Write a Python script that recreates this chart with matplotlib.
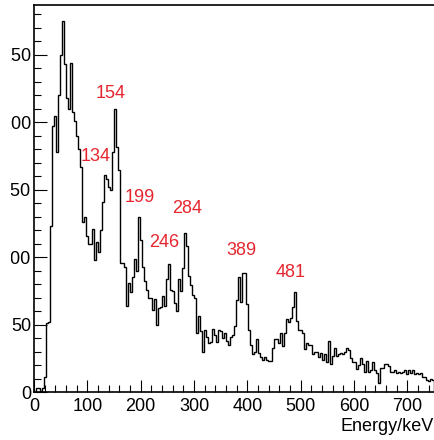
import numpy as np
import matplotlib
matplotlib.use("Agg")
import matplotlib.pyplot as plt
from matplotlib.ticker import MultipleLocator
from matplotlib.transforms import Bbox, TransformedBbox

# Gamma spectrum: 200 bins of 3.75 keV from 0 to 750 keV
e_min, e_max, n_bins = 0.0, 750.0, 200
counts = [
    0, 3, 3, 1, 3, 11, 51, 52, 123, 197,
    205, 178, 220, 250, 275, 243, 218, 210, 244, 208,
    201, 190, 180, 167, 126, 130, 116, 110, 110, 121,
    98, 111, 104, 120, 141, 161, 158, 152, 150, 178,
    210, 182, 165, 96, 96, 93, 64, 81, 74, 85,
    99, 90, 130, 113, 93, 82, 76, 70, 70, 61,
    69, 50, 62, 63, 71, 64, 84, 95, 76, 75,
    66, 60, 84, 75, 92, 118, 108, 86, 79, 72,
    70, 44, 56, 45, 30, 46, 41, 36, 37, 47,
    42, 37, 46, 45, 40, 44, 38, 35, 41, 42,
    49, 68, 85, 67, 88, 88, 65, 46, 35, 28,
    30, 39, 29, 26, 24, 26, 24, 23, 23, 33,
    39, 39, 36, 44, 34, 44, 54, 52, 55, 63,
    74, 53, 46, 46, 44, 32, 36, 35, 35, 28,
    30, 30, 26, 29, 24, 28, 22, 38, 21, 27,
    33, 27, 28, 29, 28, 30, 33, 31, 25, 22,
    22, 17, 20, 25, 21, 15, 23, 15, 16, 22,
    16, 14, 7, 18, 18, 21, 21, 19, 15, 15,
    16, 14, 15, 14, 15, 16, 13, 16, 14, 16,
    13, 14, 13, 14, 11, 11, 9, 8, 10, 9,
]

# Peak annotations (text, energy position, count position)
peak_texts = ["154", "134", "199", "284", "246", "389", "481"]
peak_x = [144.4, 115.3, 198.2, 287.8, 243.8, 388.7, 481.3]
peak_y = [221, 175, 144, 136, 111, 104.6, 88.3]

y_ticks = [0, 50, 100, 150, 200, 250]
x_ticks = [0, 100, 200, 300, 400, 500, 600, 700]

FONT = ["Liberation Sans", "DejaVu Sans"]
RED = "#e5262f"
FS = 13

W, H = 434, 440
fig = plt.figure(figsize=(W / 100, H / 100), dpi=100)
ax = fig.add_axes([34 / W, 48 / H, 400 / W, 387 / H])

edges = np.linspace(e_min, e_max, n_bins + 1)
ax.stairs(counts, edges, color="black", lw=1.0, baseline=0)

ax.set_xlim(e_min, e_max)
ax.set_ylim(0, 287)

for side in ("top", "left", "bottom"):
    ax.spines[side].set_linewidth(1.2)
ax.spines["right"].set_visible(False)

ax.set_xticks(x_ticks)
ax.set_yticks(y_ticks)
ax.xaxis.set_minor_locator(MultipleLocator(20))
ax.yaxis.set_minor_locator(MultipleLocator(10))
ax.tick_params(which="both", direction="in", top=False, right=False, width=0.8)
ax.tick_params(which="major", length=9)
ax.tick_params(which="minor", length=4.8)
ax.tick_params(axis="x", which="major", pad=4)
ax.tick_params(axis="y", which="major", pad=2.2)

ax.set_xticklabels([str(v) for v in x_ticks], fontsize=FS, family=FONT)
ax.set_yticklabels([str(v) for v in y_ticks], fontsize=FS, family=FONT)

# the leading digit of the y labels falls outside the visible frame
clip = TransformedBbox(Bbox.from_extents(11.0 / W, 0, 34 / W, 1), fig.transFigure)
for tick in ax.yaxis.get_major_ticks(len(y_ticks)):
    tick.label1.set_clip_box(clip)
    tick.label1.set_clip_on(True)

for t, x, y in zip(peak_texts, peak_x, peak_y):
    ax.text(x, y, t, color=RED, fontsize=FS, family=FONT, ha="center", va="center")

fig.text(1.0, 9.3 / H, "Energy/keV", ha="right", va="baseline",
         fontsize=FS, family=FONT)

fig.savefig("out.png", dpi=100, facecolor="white")
